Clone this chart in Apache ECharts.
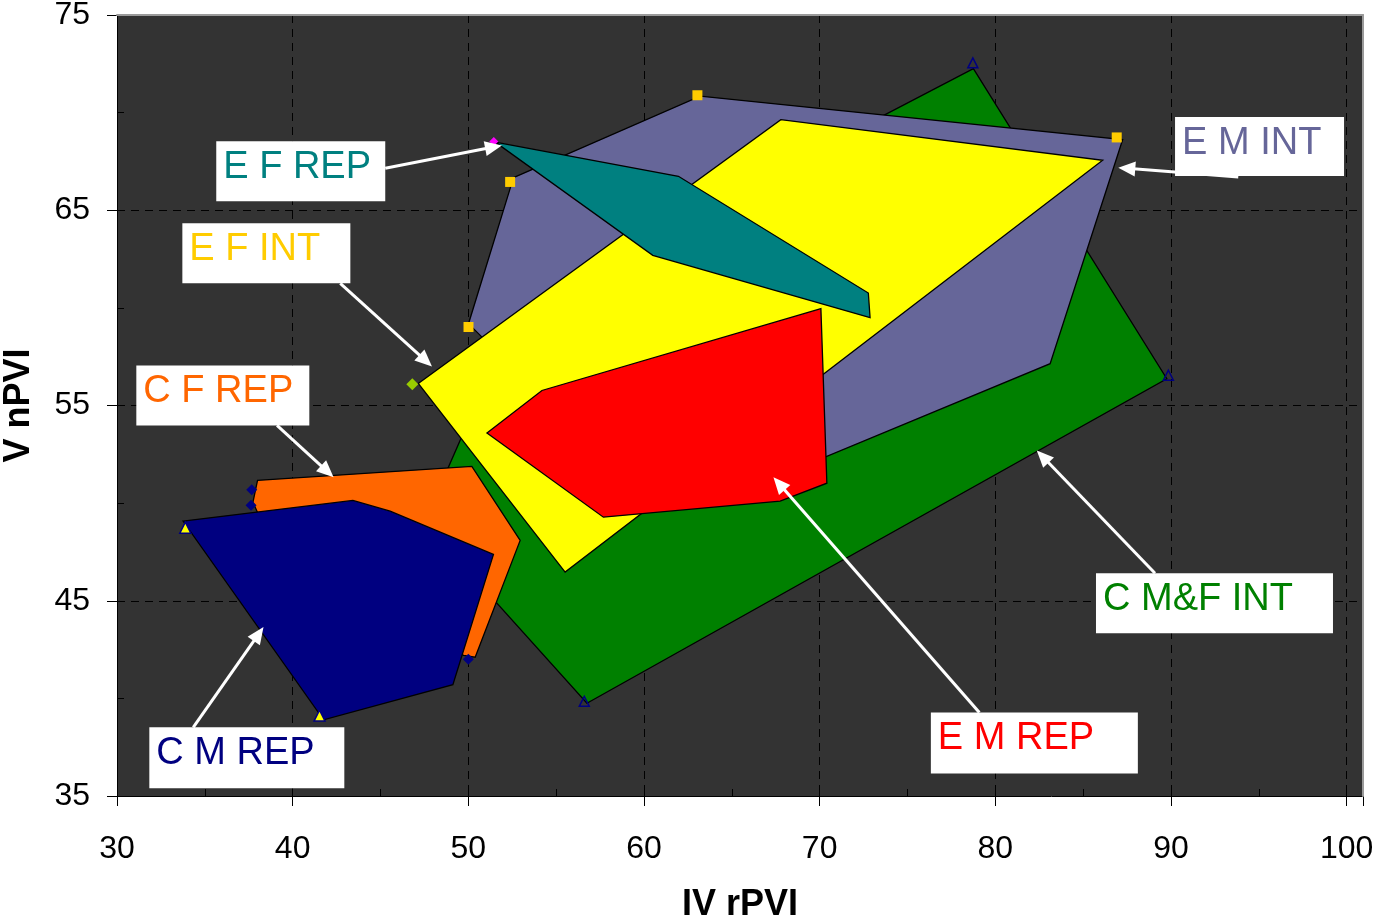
<!DOCTYPE html>
<html><head><meta charset="utf-8">
<script src="https://cdn.jsdelivr.net/npm/echarts@6/dist/echarts.min.js"></script>
<style>html,body{margin:0;padding:0;background:#fff}#c{width:1375px;height:922px}</style>
</head><body><div id="c"></div>
<script>
// ---- data (IV rPVI, V nPVI) ----
const xTickLabels = [30, 40, 50, 60, 70, 80, 90, 100];
const yTickLabels = [35, 45, 55, 65, 75];

const cMFInt = [[78.75,72.25],[89.76,56.37],[56.75,39.75],[47.49,49.01],[52.90,60.13]];
const eMInt  = [[52.57,66.67],[63.20,70.84],[87.25,68.62],[83.12,57.14],[68.49,51.68],[55.23,54.49],[50.01,59.19]];
const eFInt  = [[47.15,56.13],[67.79,69.64],[86.11,67.56],[55.51,46.47]];
const eFRep  = [[51.53,68.49],[61.96,66.74],[72.77,60.76],[72.87,59.50],[60.50,62.69]];
const eMRep  = [[51.06,53.59],[54.19,55.77],[70.07,59.96],[70.41,51.02],[67.75,50.10],[57.69,49.28]];
const cFRep  = [[38.00,51.16],[50.20,51.88],[52.95,48.09],[50.39,42.11],[49.73,42.20],[39.00,47.50],[37.74,50.05]];
const cMRep  = [[33.76,49.08],[43.43,50.14],[45.55,49.59],[51.43,47.37],[49.12,40.70],[41.76,38.90]];

// vertex markers (partly hidden under the shapes)
const mkYellowGreen = [[46.81,56.09]];
const mkMagenta = [[51.45,68.52]];
const mkGold = [[52.38,66.45],[50.01,59.02],[63.04,70.89],[86.91,68.73]];
const mkNavyTri = [[33.89,48.74],[41.53,39.12]];
const mkNavyDia = [[37.67,50.69],[37.63,49.89],[50.00,42.00]];
const mkGreenVtx = [[78.72,72.55],[89.85,56.55],[56.60,39.85]];

// annotations
const labelText = ['E F REP','E F INT','C F REP','C M REP','E M INT','C M&F INT','E M REP'];
const labelBoxAt = [[35.65,68.53],[33.72,64.33],[31.10,57.05],[31.84,38.52],[90.23,69.77],[85.73,46.41],[76.33,39.28]];
const arrowFrom = [[45.27,67.15],[42.71,61.26],[39.11,53.98],[34.34,38.51],[93.83,66.70],[89.09,46.41],[79.09,39.28]];
const arrowTo   = [[51.91,68.32],[47.93,57.00],[42.33,51.33],[38.34,43.65],[87.00,67.18],[82.36,52.70],[67.37,51.33]];

// ---- styles ----
const FONT = '"Liberation Sans", Arial, sans-serif';
const labelColor = ['#008080','#FFCC00','#FF6600','#000080','#666699','#008000','#FF0000'];
const labelBoxSize = [[169,60],[168,60],[173,60],[195,61],[169,59],[237,60],[207,61]];

const chart = echarts.init(document.getElementById('c'), null, {renderer:'canvas'});

function poly(name, pts, fill) {
  return {
    type: 'custom', name: name, data: pts, silent: true,
    encode: {x: 0, y: 1},
    renderItem: function (params, api) {
      if (params.dataIndex !== 0) return null;
      return {
        type: 'polygon',
        shape: {points: pts.map(function (p) { return api.coord(p); })},
        style: {fill: fill, stroke: '#000', lineWidth: 1.3}
      };
    }
  };
}
function marks(data, symbol, size, fill, stroke) {
  return {type: 'scatter', data: data, symbol: symbol, symbolSize: size, silent: true,
    itemStyle: {color: fill, borderColor: stroke, borderWidth: stroke ? 1.5 : 0, opacity: 1}};
}

const xMin = 30, xMax = 100.93, yMin = 35, yMax = 75;
const fmtX = function (v) { return xTickLabels.indexOf(Math.round(v * 1000) / 1000) >= 0 ? String(v) : ''; };
const fmtY = function (v) { return yTickLabels.indexOf(Math.round(v * 1000) / 1000) >= 0 ? String(v) : ''; };

chart.setOption({
  animation: false,
  grid: {left: 117, top: 15, right: 12, bottom: 126, show: true, backgroundColor: '#333333', borderWidth: 0,
         containLabel: false, outerBoundsMode: 'none'},
  xAxis: [
    {type: 'value', min: xMin, max: xMax, interval: 10, position: 'bottom',
     axisLine: {show: true, onZero: false, lineStyle: {color: '#000', width: 1}},
     axisTick: {show: true, length: 10, lineStyle: {color: '#000'}},
     axisLabel: {formatter: fmtX, color: '#000', fontSize: 32, fontFamily: FONT, margin: 37},
     splitLine: {show: true, lineStyle: {color: '#000', type: [8, 6], width: 1}},
     name: 'IV rPVI', nameLocation: 'middle', nameGap: 91,
     nameTextStyle: {color: '#000', fontSize: 36, fontWeight: 'bold', fontFamily: FONT}},
    {type: 'value', min: xMin, max: xMax, interval: 5, position: 'bottom',
     axisLine: {show: false}, axisLabel: {show: false}, splitLine: {show: false},
     axisTick: {show: true, inside: true, length: 7, lineStyle: {color: '#000'}}},
    {type: 'value', min: xMin, max: xMax, position: 'top', z: 10,
     axisLine: {show: true, onZero: false, lineStyle: {color: '#9a9a9a', width: 2}},
     axisTick: {show: false}, axisLabel: {show: false}, splitLine: {show: false}}
  ],
  yAxis: [
    {type: 'value', min: yMin, max: yMax, interval: 10, position: 'left',
     axisLine: {show: true, onZero: false, lineStyle: {color: '#000', width: 1}},
     axisTick: {show: true, length: 10, lineStyle: {color: '#000'}},
     axisLabel: {formatter: fmtY, color: '#000', fontSize: 32, fontFamily: FONT, margin: 27},
     splitLine: {show: true, lineStyle: {color: '#000', type: [8, 6], width: 1}},
     name: 'V nPVI', nameLocation: 'middle', nameGap: 80,
     nameTextStyle: {color: '#000', fontSize: 36, fontWeight: 'bold', fontFamily: FONT}},
    {type: 'value', min: yMin, max: yMax, interval: 5, position: 'left',
     axisLine: {show: false}, axisLabel: {show: false}, splitLine: {show: false},
     axisTick: {show: true, inside: true, length: 7, lineStyle: {color: '#000'}}},
    {type: 'value', min: yMin, max: yMax, position: 'right', z: 10,
     axisLine: {show: true, onZero: false, lineStyle: {color: '#9a9a9a', width: 2}},
     axisTick: {show: false}, axisLabel: {show: false}, splitLine: {show: false}}
  ],
  series: [
    marks(mkYellowGreen, 'diamond', 12, '#99CC00'),
    marks(mkMagenta, 'diamond', 9, '#FF00FF'),
    marks(mkGold, 'rect', 10, '#FFCC00'),
    marks(mkNavyTri, 'triangle', 11, '#FFFF00', '#000080'),
    marks(mkNavyDia, 'diamond', 11, '#000080'),
    marks(mkGreenVtx, 'triangle', 10, 'rgba(0,0,0,0)', '#000080'),
    poly('C M&F INT', cMFInt, '#008000'),
    poly('E M INT', eMInt, '#666699'),
    poly('E F INT', eFInt, '#FFFF00'),
    poly('E F REP', eFRep, '#008080'),
    poly('E M REP', eMRep, '#FF0000'),
    poly('C F REP', cFRep, '#FF6600'),
    poly('C M REP', cMRep, '#000080')
  ]
});

function toPx(p) { return chart.convertToPixel({seriesIndex: 0}, p); }
const g = [];
for (let i = 0; i < labelText.length; i++) {
  const a = toPx(arrowFrom[i]), b = toPx(arrowTo[i]);
  const dx = b[0] - a[0], dy = b[1] - a[1], L = Math.sqrt(dx * dx + dy * dy);
  const ux = dx / L, uy = dy / L, px = -uy, py = ux;
  const hl = 17, hw = 7.5;
  const bx = b[0] - ux * hl, by = b[1] - uy * hl;
  g.push({type: 'line', z: 100, silent: true,
    shape: {x1: a[0], y1: a[1], x2: bx + ux * 2, y2: by + uy * 2},
    style: {stroke: '#fff', lineWidth: 3}});
  g.push({type: 'polygon', z: 100, silent: true,
    shape: {points: [[b[0], b[1]], [bx + px * hw, by + py * hw], [bx - px * hw, by - py * hw]]},
    style: {fill: '#fff'}});
}
for (let i = 0; i < labelText.length; i++) {
  const p = toPx(labelBoxAt[i]);
  const w = labelBoxSize[i][0], h = labelBoxSize[i][1];
  g.push({type: 'rect', z: 110, silent: true,
    shape: {x: p[0], y: p[1], width: w, height: h}, style: {fill: '#fff'}});
  g.push({type: 'text', z: 111, silent: true,
    style: {text: labelText[i], x: p[0] + 7, y: p[1] + 26, fill: labelColor[i],
      font: '38px ' + FONT, align: 'left', verticalAlign: 'middle'}});
}
chart.setOption({graphic: {elements: g}});
</script>
</body></html>
